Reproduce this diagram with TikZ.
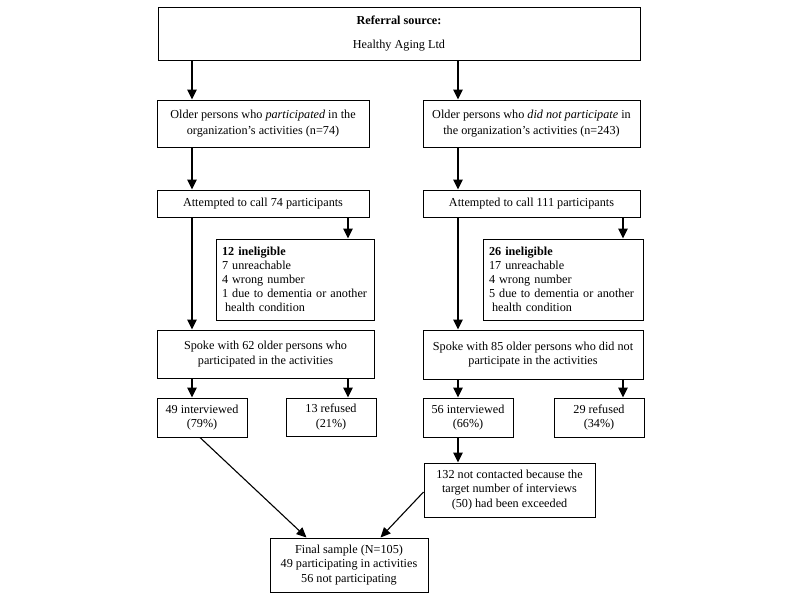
\documentclass[tikz,border=0pt]{standalone}
\usepackage{fontspec}
\setmainfont{Liberation Serif}
\usetikzlibrary{arrows.meta,calc}
\begin{document}
\begin{tikzpicture}[x=1pt,y=-1pt,
  box/.style={draw, line width=1pt, inner sep=0pt, align=center, font=\fontsize{12.2}{14.5}\selectfont},
  lbox/.style={draw, line width=1pt, inner xsep=6pt, inner ysep=0pt, align=left, text width=146pt, minimum height=81pt, font=\fontsize{12.2}{14}\selectfont},
  arr/.style={-{Triangle[length=10pt,width=9.5pt]}, line width=1.6pt},
  darr/.style={-{Triangle[length=10pt,width=9pt]}, line width=1.1pt}]
\useasboundingbox (0,0) rectangle (800,600);
\fill[white] (0,0) rectangle (800,600);
\coordinate (xL) at (192,0);
\coordinate (xL2) at (348,0);
\coordinate (xR) at (458,0);
\coordinate (xR2) at (623,0);

\node[box, minimum width=482pt, minimum height=53pt] (top) at (399,33.5)
  {\textbf{Referral source:}\\[9pt]Healthy Aging Ltd};
\node[box, minimum width=212pt, minimum height=47pt, font=\fontsize{12.2}{16.5}\selectfont] (p1) at (263,123.5)
  {Older persons who \textit{participated} in the\\organization’s activities (n=74)};
\node[box, minimum width=217pt, minimum height=47pt, font=\fontsize{12.2}{16.5}\selectfont] (n1) at (531.5,123.5)
  {Older persons who \textit{did not participate} in\\the organization’s activities (n=243)};
\node[box, minimum width=212pt, minimum height=27pt] (a1) at (263,203.5) {Attempted to call 74 participants};
\node[box, minimum width=217pt, minimum height=27pt] (a2) at (531.5,203.5) {Attempted to call 111 participants};
\node[lbox] (i1) at (295,279.5)
  {\textbf{12 ineligible}\\7 unreachable\\4 wrong number\\1 due to dementia or another\\\hspace*{3pt}health condition};
\node[lbox, text width=148pt] (i2) at (563,279.5)
  {\textbf{26 ineligible}\\17 unreachable\\4 wrong number\\5 due to dementia or another\\\hspace*{3pt}health condition};
\node[box, minimum width=217pt, minimum height=48pt] (s1) at (265.5,354)
  {Spoke with 62 older persons who\\participated in the activities};
\node[box, minimum width=220pt, minimum height=49pt] (s2) at (533,354.5)
  {Spoke with 85 older persons who did not\\participate in the activities};
\node[box, minimum width=90pt, minimum height=39pt] (r1) at (202,417.5) {49 interviewed\\(79\%)};
\node[box, minimum width=90pt, minimum height=38pt] (r2) at (331,417) {13 refused\\(21\%)};
\node[box, minimum width=90pt, minimum height=39pt] (r3) at (468,417.5) {56 interviewed\\(66\%)};
\node[box, minimum width=90pt, minimum height=39pt] (r4) at (599,417.5) {29 refused\\(34\%)};
\node[box, minimum width=171pt, minimum height=54pt] (nc) at (509.5,490)
  {132 not contacted because the\\target number of interviews\\(50) had been exceeded};
\node[box, minimum width=158pt, minimum height=54pt] (fs) at (349,565)
  {Final sample (N=105)\\49 participating in activities\\56 not participating};

\draw[arr] (top.south -| xL) -- (p1.north -| xL);
\draw[arr] (top.south -| xR) -- (n1.north -| xR);
\draw[arr] (p1.south -| xL) -- (a1.north -| xL);
\draw[arr] (n1.south -| xR) -- (a2.north -| xR);
\draw[arr] (a1.south -| xL2) -- (i1.north -| xL2);
\draw[arr] (a2.south -| xR2) -- (i2.north -| xR2);
\draw[arr] (a1.south -| xL) -- (s1.north -| xL);
\draw[arr] (a2.south -| xR) -- (s2.north -| xR);
\draw[arr] (s1.south -| xL) -- (r1.north -| xL);
\draw[arr] (s1.south -| xL2) -- (r2.north -| xL2);
\draw[arr] (s2.south -| xR) -- (r3.north -| xR);
\draw[arr] (s2.south -| xR2) -- (r4.north -| xR2);
\draw[arr] (r3.south -| xR) -- (nc.north -| xR);
\draw[darr] ($(r1.south)+(-2,0)$) -- ($(fs.north west)+(37,0)$);
\draw[darr] ($(nc.west)+(0,2)$) -- ($(fs.north east)+(-48,0)$);
\end{tikzpicture}
\end{document}
